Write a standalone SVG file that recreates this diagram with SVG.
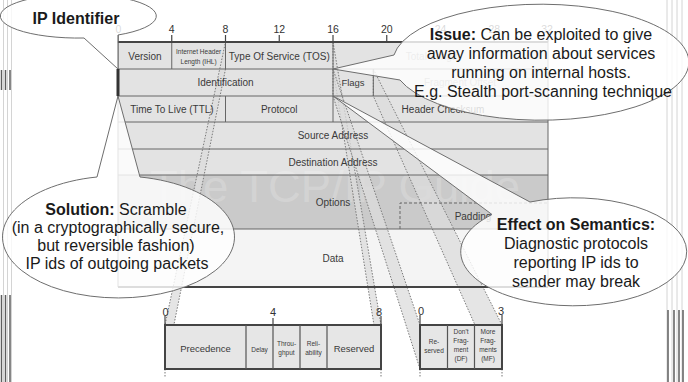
<svg xmlns="http://www.w3.org/2000/svg" width="688" height="382" viewBox="0 0 688 382">
  <style>
    text { font-family: "Liberation Sans", Arial, Helvetica, sans-serif; }
    .fld { font-size: 10px; fill: #3a3a3a; text-anchor: middle; }
    .fld-s { font-size: 9.5px; fill: #3a3a3a; text-anchor: middle; }
    .fld-xs { font-size: 6.5px; fill: #3a3a3a; text-anchor: middle; }
    .faint { fill: #9a9a9a; }
    .tiny { font-size: 6.5px; fill: #3a3a3a; text-anchor: middle; }
    .num { font-size: 10.5px; fill: #333; text-anchor: middle; }
    .num2 { font-size: 11px; fill: #333; text-anchor: middle; }
    .grid { stroke: #666; stroke-width: 1; fill: none; }
    .heavy { stroke: #444; stroke-width: 2; fill: none; }
    .tick { stroke: #444; stroke-width: 1.2; }
    .beam { fill: #dcdcdc; fill-opacity: 0.75; stroke: #7a7a7a; stroke-width: 1; stroke-dasharray: 1.5 1.5; }
    .subbox { fill: #e6e6e6; stroke: #444; stroke-width: 2; }
    .subdiv { stroke: #555; stroke-width: 1.2; }
    .callout { fill: #ffffff; fill-opacity: 0.82; stroke: #6e6e6e; stroke-width: 1; }
    .ctext { font-size: 16px; fill: #1a1a1a; text-anchor: middle; }
    .b { font-weight: bold; }
    .edge-light { stroke: #d4d4d4; stroke-width: 1; }
    .edge-dark { stroke: #5e5e5e; stroke-width: 1.5; }
  </style>

  <!-- page edge rules -->
  <g id="page-edges">
    <line class="edge-light" x1="3.5" y1="0" x2="3.5" y2="382"/>
    <line class="edge-light" x1="7.5" y1="0" x2="7.5" y2="382"/>
    <line class="edge-light" x1="11.5" y1="0" x2="11.5" y2="382"/>
    <line class="edge-dark" x1="1.5" y1="70" x2="1.5" y2="90"/>
    <line class="edge-dark" x1="5.5" y1="70" x2="5.5" y2="90"/>
    <line class="edge-dark" x1="10" y1="70" x2="10" y2="90"/>
    <line class="edge-dark" x1="1.5" y1="295" x2="1.5" y2="382"/>
    <line class="edge-dark" x1="5.5" y1="295" x2="5.5" y2="382"/>
    <line class="edge-dark" x1="10" y1="295" x2="10" y2="382"/>
    <line class="edge-light" x1="667" y1="0" x2="667" y2="382"/>
    <line class="edge-light" x1="672" y1="0" x2="672" y2="382"/>
    <line class="edge-light" x1="677" y1="0" x2="677" y2="382"/>
    <line class="edge-light" x1="682" y1="0" x2="682" y2="382"/>
    <line class="edge-dark" x1="668" y1="310" x2="668" y2="382"/>
    <line class="edge-dark" x1="674" y1="310" x2="674" y2="382"/>
    <line class="edge-dark" x1="679" y1="310" x2="679" y2="382"/>
    <line class="edge-dark" x1="683" y1="310" x2="683" y2="382"/>
  </g>

  <!-- IPv4 header: row backgrounds and watermark -->
  <g id="header-bg">
    <rect x="118" y="42" width="430" height="133" fill="#e3e3e3"/>
    <rect x="118" y="175" width="430" height="54" fill="#cacaca"/>
    <rect x="118" y="229" width="430" height="58" fill="#f4f4f4"/>
    <text x="150" y="202" font-size="44" fill="#ffffff" fill-opacity="0.2" textLength="370" lengthAdjust="spacingAndGlyphs">The TCP/IP Guide</text>
  </g>

  <!-- projection beams from header fields to their bit breakdowns -->
  <g id="connectors">
    <polygon class="beam" points="225.5,42 225.5,69 165,369 165,325"/>
    <polygon class="beam" points="333,42 333,69 381,369 381,325"/>
    <polygon class="beam" points="333,69 333,96 420,369 420,325"/>
    <polygon class="beam" points="373.3,69 502,325 475,325 373.3,96"/>
    <path d="M165,369 V377 M381,369 V377 M420,369 V377 M502,369 V377" stroke="#777" stroke-width="1" stroke-dasharray="1.5 1.5"/>
  </g>

  <!-- bit scale -->
  <g id="bit-scale">
    <path class="tick" d="M118,35V42 M171.75,35V42 M225.5,35V42 M279.25,35V42 M333,35V42 M386.75,35V42 M440.5,35V42 M494.25,35V42 M548,35V42"/>
    <text class="num" x="118.5" y="33">0</text>
    <text class="num" x="171.75" y="33">4</text>
    <text class="num" x="225.5" y="33">8</text>
    <text class="num" x="279.25" y="33">12</text>
    <text class="num" x="333" y="33">16</text>
    <text class="num" x="386.75" y="33">20</text>
    <text class="num" x="440.5" y="33">24</text>
    <text class="num" x="494.25" y="33">28</text>
    <text class="num" x="547" y="33">32</text>
  </g>

  <!-- header grid lines -->
  <g id="header-grid">
    <path class="grid" d="M118,69H548 M118,96H548 M118,122H548 M118,149H548"/>
    <path class="grid" stroke-width="1.5" d="M118,175H548 M118,229H548"/>
    <path class="grid" d="M118,42V287"/>
    <path class="grid" stroke="#444" stroke-width="1.5" d="M548,42V287"/>
    <path class="grid" d="M171.75,42V69 M225.5,42V69 M333,42V69 M333,69V96 M373.3,69V96 M225.5,96V122 M333,96V122"/>
    <path class="heavy" d="M117,42H548 M118,287H548"/>
    <path d="M118,69V96" stroke="#333" stroke-width="3"/>
    <path d="M400,229V203H548" fill="none" stroke="#666" stroke-width="1" stroke-dasharray="3 2"/>
  </g>

  <!-- header field labels -->
  <g id="field-version"><text class="fld" x="145" y="59.5">Version</text></g>
  <g id="field-ihl">
    <text class="fld-xs" x="198.6" y="54">Internet Header</text>
    <text class="fld-xs" x="198.6" y="63.5">Length (IHL)</text>
  </g>
  <g id="field-tos"><text class="fld" x="279.25" y="59.5">Type Of Service (TOS)</text></g>
  <g id="field-total-length"><text class="fld faint" x="433" y="59.5">Total Length</text></g>
  <g id="field-identification"><text class="fld" x="225.5" y="86">Identification</text></g>
  <g id="field-flags"><text class="fld-s" x="353" y="86">Flags</text></g>
  <g id="field-fragment-offset"><text class="fld faint" x="460" y="86">Fragment Offset</text></g>
  <g id="field-ttl"><text class="fld" x="172" y="112.5">Time To Live (TTL)</text></g>
  <g id="field-protocol"><text class="fld" x="279.25" y="112.5">Protocol</text></g>
  <g id="field-checksum"><text class="fld" x="443" y="112.5">Header Checksum</text></g>
  <g id="field-source"><text class="fld" x="333" y="139">Source Address</text></g>
  <g id="field-destination"><text class="fld" x="333" y="165.5">Destination Address</text></g>
  <g id="field-options"><text class="fld" x="333" y="205.5">Options</text></g>
  <g id="field-padding"><text class="fld" x="473" y="219.5">Padding</text></g>
  <g id="field-data"><text class="fld" x="333" y="261.5">Data</text></g>

  <!-- Type Of Service breakdown -->
  <g id="tos-breakdown">
    <path class="tick" d="M165,316V325 M273,318V325 M381,316V325"/>
    <text class="num2" x="165.5" y="316">0</text>
    <text class="num2" x="273" y="316">4</text>
    <text class="num2" x="379" y="316">8</text>
    <rect class="subbox" x="165" y="325" width="216" height="44"/>
    <path class="subdiv" d="M246,325V369 M273,325V369 M300,325V369 M327,325V369"/>
    <text class="fld-s" x="205.5" y="351.5">Precedence</text>
    <text class="tiny" x="259.5" y="352">Delay</text>
    <text class="tiny" x="286.5" y="346">Throu-</text>
    <text class="tiny" x="286.5" y="355">ghput</text>
    <text class="tiny" x="313.5" y="346">Reli-</text>
    <text class="tiny" x="313.5" y="355">ability</text>
    <text class="fld-s" x="354" y="351.5">Reserved</text>
  </g>

  <!-- Flags breakdown -->
  <g id="flags-breakdown">
    <path class="tick" d="M420,315V325 M502,315V325"/>
    <text class="num2" x="421" y="315">0</text>
    <text class="num2" x="501" y="315">3</text>
    <rect class="subbox" x="420" y="325" width="82" height="44"/>
    <path class="subdiv" d="M447.5,325V369 M474.5,325V369"/>
    <text class="tiny" x="434" y="344">Re-</text>
    <text class="tiny" x="434" y="353">served</text>
    <text class="tiny" x="461" y="334">Don't</text>
    <text class="tiny" x="461" y="343">Frag-</text>
    <text class="tiny" x="461" y="352">ment</text>
    <text class="tiny" x="461" y="361">(DF)</text>
    <text class="tiny" x="488" y="334">More</text>
    <text class="tiny" x="488" y="343">Frag-</text>
    <text class="tiny" x="488" y="352">ments</text>
    <text class="tiny" x="488" y="361">(MF)</text>
  </g>

  <!-- callouts -->
  <g id="callout-ip-identifier">
    <path class="callout" d="M84,38 A78 22 0 1 1 118,35 L118,69 Z"/>
    <text class="ctext b" x="76" y="24">IP Identifier</text>
  </g>

  <g id="callout-issue">
    <path class="callout" d="M394,55 A148 58 0 1 1 400,80 L333,69 Z"/>
    <text class="ctext" x="541" y="39.5"><tspan class="b">Issue:</tspan> Can be exploited to give</text>
    <text class="ctext" x="541" y="58.5">away information about services</text>
    <text class="ctext" x="541" y="77.5">running on internal hosts.</text>
    <text class="ctext" x="543" y="96.5">E.g. Stealth port-scanning technique</text>
  </g>

  <g id="callout-solution">
    <path class="callout" d="M140,177 A116 61 0 1 1 97,177 L118,96 Z"/>
    <text class="ctext" x="116" y="214.5"><tspan class="b">Solution:</tspan> Scramble</text>
    <text class="ctext" x="118" y="232.5">(in a cryptographically secure,</text>
    <text class="ctext" x="116" y="250.5">but reversible fashion)</text>
    <text class="ctext" x="117" y="268.5">IP ids of outgoing packets</text>
  </g>

  <g id="callout-effect">
    <path class="callout" d="M530,202 A113 54 0 1 1 492,214.5 L333,96 Z"/>
    <text class="ctext b" x="576" y="229.5">Effect on Semantics:</text>
    <text class="ctext" x="576" y="248.5">Diagnostic protocols</text>
    <text class="ctext" x="576" y="267.5">reporting IP ids to</text>
    <text class="ctext" x="576" y="286.5">sender may break</text>
  </g>
</svg>
